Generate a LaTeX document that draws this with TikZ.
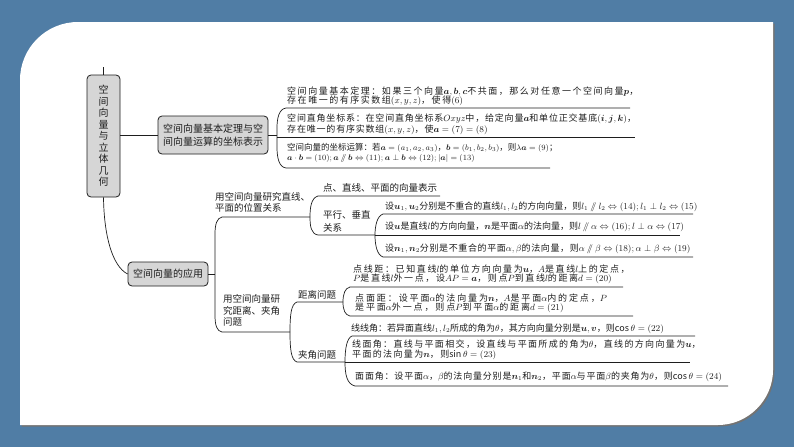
\documentclass[tikz,border=0pt]{standalone}
\usepackage{amsmath}
\usepackage{fontspec}
\setmainfont{Noto Sans CJK SC}
\definecolor{bgblue}{RGB}{80,125,165}
\definecolor{boxgray}{RGB}{214,214,214}
\definecolor{ink}{RGB}{30,30,30}
\newcommand{\bv}[1]{\boldsymbol{#1}}
\newcommand{\pll}{\mathbin{/\!\!/}}
\tikzset{
  boxnode/.style={draw=ink, fill=boxgray, rounded corners=4pt, line width=0.8pt, inner sep=0pt, text=ink, align=center},
  itemtxt/.style={inner sep=0pt, anchor=west, align=left, text=ink, font=\fontsize{9}{9.6}\selectfont},
  lsp/.style={font=\fontsize{9}{9.6}\selectfont\addfontfeature{LetterSpace=#1}},
  labtxt/.style={inner sep=0pt, anchor=west, align=left, text=ink, font=\fontsize{9.5}{11.5}\selectfont},
  ln/.style={draw=ink, line width=0.7pt},
}
\begin{document}
\begin{tikzpicture}[x=1pt,y=-1pt]
\useasboundingbox (0,0) rectangle (794,447);
\fill[bgblue] (0,0) rectangle (794,447);
% panel shadow and panel
\fill[black!55] (21.5,426.5) -- (21.5,81.5) .. controls (21.5,49.5) and (47.5,23.5) .. (79.5,23.5) -- (774.5,23.5) -- (774.5,371.5) .. controls (774.5,401.5) and (749.5,426.5) .. (719.5,426.5) -- cycle;
\fill[white] (20,425) -- (20,80) .. controls (20,48) and (46,22) .. (78,22) -- (773,22) -- (773,370) .. controls (773,400) and (748,425) .. (718,425) -- cycle;

% main boxes
\node[boxnode, minimum width=33pt, minimum height=122pt, font=\fontsize{10}{11.5}\selectfont] (root) at (103.5,136) {空\\间\\向\\量\\与\\立\\体\\几\\何};
\node[boxnode, minimum width=110pt, minimum height=38pt, font=\fontsize{10}{13}\selectfont] (b2) at (213,135) {空间向量基本定理与空\\间向量运算的坐标表示};
\node[boxnode, minimum width=80pt, minimum height=24pt, font=\fontsize{10}{12}\selectfont] (b3) at (168,274) {空间向量的应用};

\coordinate (rtop) at (103.5,67);
\draw[ln] (root.north) -- (rtop);
\draw[ln] (root.east |- b2.west) -- (b2.west);
\draw[ln] (root.south) .. controls (104,235) and (112,266) .. (b3.west);

% brace 1
\coordinate (k1) at (277,135);
\coordinate (i1s) at (286,108); \coordinate (i1e) at (630,108);
\coordinate (i2s) at (277,137.5); \coordinate (i2e) at (635,137.5);
\coordinate (i3s) at (286,168); \coordinate (i3e) at (550,168);
\draw[ln] (b2.east) -- (k1);
\draw[ln] (i1e) -- (i1s) .. controls (279,109) and (277,118) .. (277,128) -- (277,147) .. controls (277,158) and (279,167) .. (i3s) -- (i3e);
\draw[ln] (i2s) -- (i2e);
\node[itemtxt, lsp=17] (i1) at (287,96.5) {空间向量基本定理：如果三个向量$\bv a,\bv b,\bv c$不共面，那么对任意一个空间向量$\bv p$，\\存在唯一的有序实数组$(x,y,z)$，使得$(6)$};
\node[itemtxt, lsp=9] (i2) at (287,124.5) {空间直角坐标系：在空间直角坐标系$Oxyz$中，给定向量$\bv a$和单位正交基底$(\bv i,\bv j,\bv k)$，\\存在唯一的有序实数组$(x,y,z)$，使$\bv a=(7)=(8)$};
\node[itemtxt, font=\fontsize{8.5}{9.6}\selectfont] (i3) at (287,153) {空间向量的坐标运算：若$\bv a=(a_1,a_2,a_3)$，$\bv b=(b_1,b_2,b_3)$，则$\lambda\bv a=(9)$；\\$\bv a\cdot\bv b=(10);\bv a\pll\bv b\Leftrightarrow(11);\bv a\perp\bv b\Leftrightarrow(12);|\bv a|=(13)$};

% big bracket from b3
\coordinate (k0) at (215,274);
\coordinate (l1s) at (222,217); \coordinate (l1e) at (310,217);
\coordinate (l2s) at (222,332); \coordinate (l2e) at (290,332);
\draw[ln] (b3.east) -- (k0);
\draw[ln] (l1e) -- (l1s) .. controls (217,218) and (215,224) .. (215,234) -- (215,315) .. controls (215,326) and (217,331) .. (l2s) -- (l2e);
\node[labtxt] (l1) at (215,202.5) {用空间向量研究直线、\\平面的位置关系};
\node[labtxt] (l2) at (223,310.5) {用空间向量研\\究距离、夹角\\问题};

% bracket B1
\coordinate (l1as) at (318,196); \coordinate (l1ae) at (440,196);
\coordinate (l1bs) at (318,235); \coordinate (l1be) at (375,235);
\draw[ln] (l1ae) -- (l1as) .. controls (311,198) and (310,208) .. (l1e) .. controls (310,226) and (311,234) .. (l1bs) -- (l1be);
\node[labtxt] (l1a) at (323,188) {点、直线、平面的向量表示};
\node[labtxt, font=\fontsize{9.5}{12.5}\selectfont] (l1b) at (323,221.5) {平行、垂直\\关系};

% bracket B2
\coordinate (p1s) at (383,214); \coordinate (p1e) at (693,214);
\coordinate (p2e) at (680,235);
\coordinate (p3s) at (383,257); \coordinate (p3e) at (693,257);
\draw[ln] (p1e) -- (p1s) .. controls (377,216) and (375,226) .. (l1be) .. controls (375,245) and (377,255) .. (p3s) -- (p3e);
\draw[ln] (l1be) -- (p2e);
\node[itemtxt] (p1) at (385,207) {设$\bv u_1,\bv u_2$分别是不重合的直线$l_1,l_2$的方向向量，则$l_1\pll l_2\Leftrightarrow(14);l_1\perp l_2\Leftrightarrow(15)$};
\node[itemtxt] (p2) at (385,227) {设$\bv u$是直线$l$的方向向量，$\bv n$是平面$\alpha$的法向量，则$l\pll\alpha\Leftrightarrow(16);l\perp\alpha\Leftrightarrow(17)$};
\node[itemtxt, lsp=7] (p3) at (385,249) {设$\bv n_1,\bv n_2$分别是不重合的平面$\alpha,\beta$的法向量，则$\alpha\pll\beta\Leftrightarrow(18);\alpha\perp\beta\Leftrightarrow(19)$};

% bracket B3
\coordinate (das) at (297,302); \coordinate (dae) at (343,302);
\coordinate (jas) at (297,362); \coordinate (jae) at (345,362);
\draw[ln] (dae) -- (das) .. controls (291,304) and (290,315) .. (l2e) .. controls (290,349) and (291,360) .. (jas) -- (jae);
\node[labtxt] (da) at (298,295) {距离问题};
\node[labtxt] (ja) at (298,355) {夹角问题};

% bracket B4
\coordinate (d1s) at (350,287); \coordinate (d1e) at (623,287);
\coordinate (d2s) at (350,316); \coordinate (d2e) at (633,316);
\draw[ln] (d1e) -- (d1s) .. controls (345,288) and (343,294) .. (dae) .. controls (343,310) and (345,315) .. (d2s) -- (d2e);
\node[itemtxt, lsp=18] (d1) at (353,274.5) {点线距：已知直线$l$的单位方向向量为$\bv u$，$A$是直线$l$上的定点，\\$P$是直线$l$外一点，设$AP=\bv a$，则点$P$到直线$l$的距离$d=(20)$};
\node[itemtxt, lsp=21] (d2) at (355,303.5) {点面距：设平面$\alpha$的法向量为$\bv n$，$A$是平面$\alpha$内的定点，$P$\\是平面$\alpha$外一点，则点$P$到平面$\alpha$的距离$d=(21)$};

% bracket B5
\coordinate (a1s) at (352,336); \coordinate (a1e) at (695,336);
\coordinate (a2e) at (690,362);
\coordinate (a3s) at (355,386); \coordinate (a3e) at (728,386);
\draw[ln] (a1e) -- (a1s) .. controls (347,338) and (345,348) .. (jae) .. controls (345,375) and (347,384) .. (a3s) -- (a3e);
\draw[ln] (jae) -- (a2e);
\node[itemtxt] (a1) at (351,329) {线线角：若异面直线$l_1,l_2$所成的角为$\theta$，其方向向量分别是$\bv u,\bv v$，则$\cos\theta=(22)$};
\node[itemtxt, lsp=15] (a2) at (352,349.5) {线面角：直线与平面相交，设直线与平面所成的角为$\theta$，直线的方向向量为$\bv u$，\\平面的法向量为$\bv n$，则$\sin\theta=(23)$};
\node[itemtxt, lsp=9] (a3) at (355,377) {面面角：设平面$\alpha$，$\beta$的法向量分别是$\bv n_1$和$\bv n_2$，平面$\alpha$与平面$\beta$的夹角为$\theta$，则$\cos\theta=(24)$};
\end{tikzpicture}
\end{document}
